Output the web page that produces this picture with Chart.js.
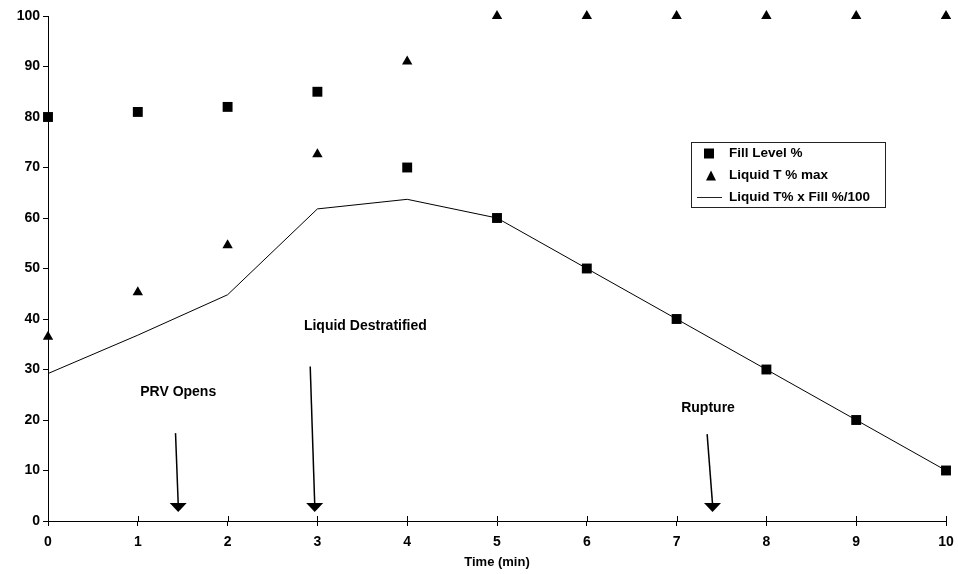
<!DOCTYPE html>
<html>
<head>
<meta charset="utf-8">
<script src="https://cdn.jsdelivr.net/npm/chart.js@4/dist/chart.umd.min.js"></script>
<style>
  html, body { margin: 0; padding: 0; background: #fff; }
  #wrap { width: 958px; height: 574px; }
</style>
</head>
<body>
<div id="wrap"><canvas id="fillChart"></canvas></div>
<script>
//Time steps (min) and the three series
const minutes = [0, 1, 2, 3, 4, 5, 6, 7, 8, 9, 10];
const fillLevel = [80, 81, 82, 85, 70, 60, 50, 40, 30, 20, 10];
const liquidTemp = [36.5, 45.3, 54.6, 72.6, 91, 100, 100, 100, 100, 100, 100];
const tempTimesFill = [29.2, 36.8, 44.8, 61.8, 63.7, 60, 50, 40, 30, 20, 10];

const seriesNames = ['Fill Level %', 'Liquid T % max', 'Liquid T% x Fill %/100'];
const eventNames = ['PRV Opens', 'Liquid Destratified', 'Rupture'];

const FONT = "'Liberation Sans', Arial, Helvetica, sans-serif";

//Event callouts, placed in data units (x = min, y = %)
const callouts = [
    { text: eventNames[0], at: [1.45, 25.6], align: 'center', from: [1.42, 17.4], to: [1.45, 1.8] },
    { text: eventNames[1], at: [2.85, 38.6], align: 'left', from: [2.92, 30.6], to: [2.97, 1.8] },
    { text: eventNames[2], at: [7.35, 22.4], align: 'center', from: [7.34, 17.2], to: [7.40, 1.8] },
];

const toPoints = (ys) => minutes.map((x, i) => ({ x: x, y: ys[i] }));

//Callout arrows, inner x ticks and the boxed legend
const extrasPlugin = {
    id: 'extras',
    afterDraw(chart) {
        const ctx = chart.ctx;
        const xs = chart.scales.x;
        const ys = chart.scales.y;
        const px = (v) => xs.getPixelForValue(v);
        const py = (v) => ys.getPixelForValue(v);
        ctx.save();

        //x ticks cross the axis
        ctx.strokeStyle = '#000';
        ctx.lineWidth = 1;
        minutes.forEach(m => {
            const x = Math.round(px(m)) + 0.5;
            ctx.beginPath();
            ctx.moveTo(x, py(0) - 5);
            ctx.lineTo(x, py(0));
            ctx.stroke();
        });

        ctx.fillStyle = '#000';
        ctx.font = 'bold 14px ' + FONT;
        ctx.textBaseline = 'middle';
        callouts.forEach(c => {
            ctx.textAlign = c.align;
            ctx.fillText(c.text, px(c.at[0]), py(c.at[1]));

            const x1 = px(c.from[0]), y1 = py(c.from[1]);
            const x2 = px(c.to[0]), y2 = py(c.to[1]);
            ctx.lineWidth = 1.5;
            ctx.beginPath();
            ctx.moveTo(x1, y1);
            ctx.lineTo(x2, y2 - 8);
            ctx.stroke();
            ctx.beginPath();
            ctx.moveTo(x2, y2);
            ctx.lineTo(x2 - 8.5, y2 - 9);
            ctx.lineTo(x2 + 8.5, y2 - 9);
            ctx.closePath();
            ctx.fill();
        });

        //legend box
        const bx = 691.5, by = 142.5, bw = 194, bh = 65;
        ctx.font = 'bold 13.5px ' + FONT;
        ctx.lineWidth = 1;
        ctx.strokeStyle = '#222';
        ctx.strokeRect(bx, by, bw, bh);
        ctx.textAlign = 'left';
        const rows = [by + 11, by + 33, by + 55];
        ctx.fillRect(704, rows[0] - 5, 10, 10);
        ctx.beginPath();
        ctx.moveTo(711, rows[1] - 5);
        ctx.lineTo(716, rows[1] + 5);
        ctx.lineTo(706, rows[1] + 5);
        ctx.closePath();
        ctx.fill();
        ctx.beginPath();
        ctx.moveTo(697, rows[2]);
        ctx.lineTo(722, rows[2]);
        ctx.stroke();
        seriesNames.forEach((name, i) => ctx.fillText(name, 729, rows[i]));

        ctx.restore();
    }
};

const fillChart = new Chart(document.getElementById('fillChart'), {
    type: 'scatter',
    data: {
        datasets: [{
            label: seriesNames[0],
            data: toPoints(fillLevel),
            pointStyle: 'rect',
            pointRadius: 7,
            backgroundColor: '#000',
            borderColor: '#000',
            borderWidth: 0,
            clip: false,
            order: 0,
        }, {
            label: seriesNames[1],
            data: toPoints(liquidTemp),
            pointStyle: 'triangle',
            pointRadius: 6,
            backgroundColor: '#000',
            borderColor: '#000',
            borderWidth: 0,
            clip: false,
            order: 1,
        }, {
            label: seriesNames[2],
            data: toPoints(tempTimesFill),
            showLine: true,
            pointRadius: 0,
            borderColor: '#000',
            borderWidth: 1,
            tension: 0,
            clip: false,
            order: 2,
        }]
    },
    options: {
        animation: false,
        responsive: true,
        maintainAspectRatio: false,
        layout: { padding: { top: 16, right: 12, left: 0, bottom: 4 } },
        plugins: {
            legend: { display: false },
            tooltip: { enabled: false },
        },
        scales: {
            x: {
                type: 'linear',
                min: 0,
                max: 10,
                border: { color: '#000', width: 1 },
                grid: { drawOnChartArea: false, color: '#000', tickLength: 5 },
                ticks: { stepSize: 1, color: '#000', padding: 8, font: { family: FONT, size: 14, weight: 'bold' } },
                title: { display: true, text: 'Time (min)', color: '#000', padding: { top: 2, bottom: 0 }, font: { family: FONT, size: 13, weight: 'bold' } },
                afterFit(scale) {
                    scale.height = 49;
                    scale.paddingLeft = 0;
                    scale.paddingRight = 4;
                },
            },
            y: {
                min: 0,
                max: 100,
                border: { color: '#000', width: 1 },
                grid: { drawOnChartArea: false, color: '#000', tickLength: 5 },
                ticks: { stepSize: 10, color: '#000', padding: 3, font: { family: FONT, size: 14, weight: 'bold' } },
                afterFit(scale) { scale.width = 48; },
            },
        },
    },
    plugins: [extrasPlugin],
});
</script>
</body>
</html>
